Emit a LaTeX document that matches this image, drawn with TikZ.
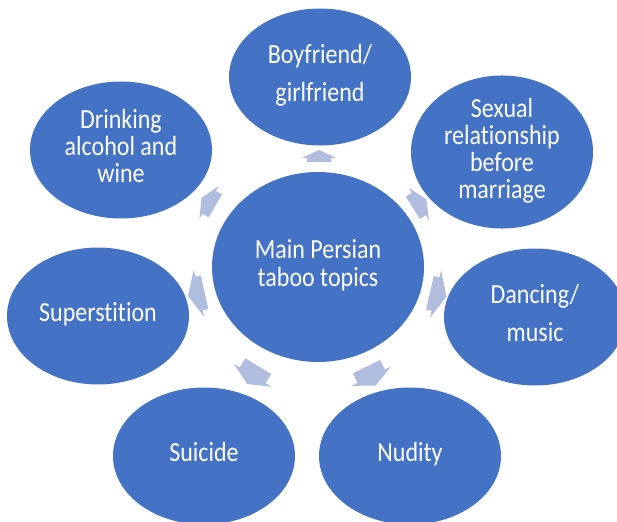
\documentclass[tikz,border=0pt]{standalone}
\usepackage{fontspec}
\setmainfont{Carlito}[Ligatures=NoCommon]
\usetikzlibrary{shapes.geometric,shapes.arrows}
\definecolor{TabooBlue}{RGB}{68,114,196}
\definecolor{FlowBlue}{RGB}{176,189,222}
\newcommand{\tallbox}[1]{\scalebox{1}[1.15]{\begin{tabular}{@{}c@{}}#1\end{tabular}}}
\tikzset{
	topic/.style={ellipse,fill=TabooBlue,text=white,inner sep=0pt,
		minimum width=182pt,minimum height=137pt,font=\fontsize{24}{23}\selectfont},
	hub/.style={topic,minimum width=212pt,minimum height=190pt},
	flow/.style={single arrow,fill=FlowBlue,inner xsep=0pt,inner ysep=13pt,sloped,allow upside down,
		minimum height=16pt,single arrow head extend=6pt,single arrow tip angle=130},
}

\begin{document}
\begin{tikzpicture}[x=1pt,y=-1pt]
			\clip (0,0) rectangle (617,521);
			\node[hub] (main) at (318,267) {\tallbox{Main Persian\\taboo topics}};
			\node[topic] (boy) at (320,77) {\tallbox{Boyfriend/\\[10pt]girlfriend}};
			\node[topic] (sex) at (502,152) {\tallbox{Sexual\\relationship\\before\\marriage}};
			\node[topic] (dance) at (535,317) {\tallbox{Dancing/\\[10pt]music}};
			\node[topic] (nude) at (410,456) {\tallbox{Nudity}};
			\node[topic] (suic) at (204,456) {\tallbox{Suicide}};
			\node[topic] (super) at (98,316) {\tallbox{Superstition}};
			\node[topic] (drink) at (121,150) {\tallbox{Drinking\\alcohol and\\wine}};
			% arrows from the hub
			\path (main) -- node[flow,inner ysep=12pt,single arrow head extend=5pt,minimum height=12pt] (f1) {} (boy);
			\path (main) -- node[flow] (f2) {} (sex);
			\path (main) -- node[flow,inner ysep=17pt,single arrow head extend=7pt,minimum height=17pt] (f3) {} (dance);
			\path (main) -- node[flow,inner ysep=15pt,single arrow head extend=7pt,minimum height=21pt] (f4) {} (nude);
			\path (main) -- node[flow,inner ysep=15pt,single arrow head extend=7pt,minimum height=21pt] (f5) {} (suic);
			\path (main) -- node[flow,inner ysep=17pt,single arrow head extend=7pt,minimum height=17pt] (f6) {} (super);
			\path (main) -- node[flow] (f7) {} (drink);
		\end{tikzpicture}
\end{document}
